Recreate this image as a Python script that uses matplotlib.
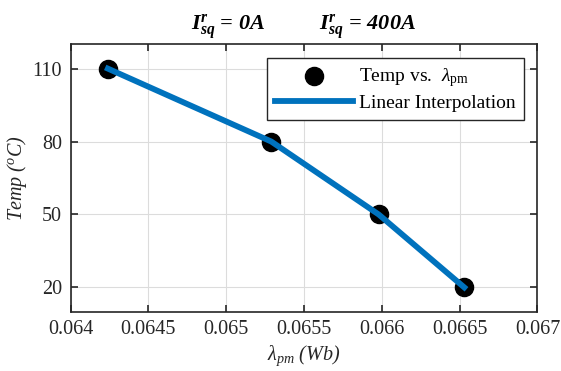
import numpy as np
import matplotlib.pyplot as plt

plt.rcParams['font.family'] = 'Liberation Serif'
plt.rcParams['mathtext.fontset'] = 'custom'
plt.rcParams['mathtext.rm'] = 'Liberation Serif'
plt.rcParams['mathtext.it'] = 'Liberation Serif:italic'
plt.rcParams['mathtext.bf'] = 'Liberation Serif:bold:italic'

# data
flux_linkage = [0.06424, 0.06529, 0.06598, 0.06653]   # Wb
temperature = [110, 80, 50, 20]                       # degC
x_ticks = [0.064, 0.0645, 0.065, 0.0655, 0.066, 0.0665, 0.067]
x_tick_labels = ['0.064', '0.0645', '0.065', '0.0655', '0.066', '0.0665', '0.067']
y_ticks = [20, 50, 80, 110]

fig = plt.figure(figsize=(5.61, 3.71), dpi=100)
ax = fig.add_axes([0.1257, 0.1598, 0.958 - 0.1257, 0.8806 - 0.1598])

ax.scatter(flux_linkage, temperature, s=170, color='black', zorder=3,
           label=r'Temp vs.  $\lambda_{\mathrm{pm}}$')
ax.plot(flux_linkage, temperature, color='#0072BD', lw=4.2, zorder=4,
        label='Linear Interpolation')

ax.set_xlim(0.064, 0.067)
ax.set_ylim(10, 120)
ax.set_xticks(x_ticks)
ax.set_xticklabels(x_tick_labels)
ax.set_yticks(y_ticks)
ax.grid(True, color='#dcdcdc', lw=0.8)
ax.set_axisbelow(True)
ax.tick_params(direction='in', top=True, right=True, length=5, width=1.2,
               labelsize=14.5, colors='#262626', pad=6)
for s in ax.spines.values():
    s.set_color('#262626')
    s.set_linewidth(1.2)

ax.set_xlabel(r'$\lambda_{pm}$ (Wb)', fontsize=14.5, style='italic', color='#262626', labelpad=3)
ax.set_ylabel(r'Temp ($^o$C)', fontsize=14.5, style='italic', color='#262626', labelpad=3)
ax.set_title(r'$\mathbf{I^r_{sq}}$ = 0A          $\mathbf{I^r_{sq}}$ = 400A',
             fontsize=16, fontweight='bold', style='italic', pad=10)

leg = ax.legend(loc='upper right', fontsize=14, fancybox=False, framealpha=1,
                edgecolor='#262626', borderaxespad=0.7, handlelength=4.0,
                handletextpad=0.35, labelspacing=0.3, borderpad=0.4)
leg.get_frame().set_linewidth(1.0)

fig.savefig('out.png', dpi=100)
